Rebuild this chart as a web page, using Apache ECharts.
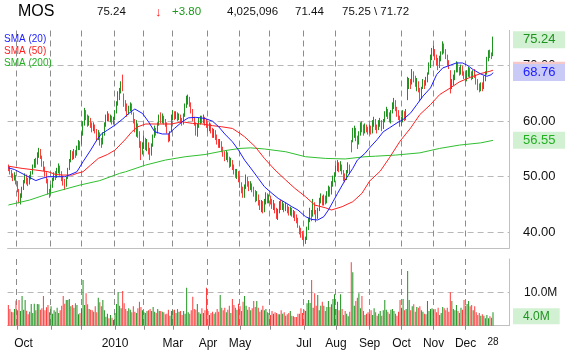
<!DOCTYPE html>
<html>
<head>
<meta charset="utf-8">
<title>MOS</title>
<script src="https://cdn.jsdelivr.net/npm/echarts@6/dist/echarts.min.js"></script>
<style>
  html, body { margin: 0; padding: 0; background: #fff; }
  #chart { width: 565px; height: 351px; }
</style>
</head>
<body>
<div id="chart"></div>
<script>
  // trading calendar shown on the chart
  const firstDay = '2009-09-23';
  const lastDay = '2010-12-28';
  const holidays = ['2009-11-26', '2009-12-25', '2010-01-01', '2010-01-18', '2010-02-15',
    '2010-04-02', '2010-05-31', '2010-07-05', '2010-09-06', '2010-11-25', '2010-12-24'];

  // labels under the volume panel
  const tickDates = ['2009-10-01', '2010-01-04', '2010-03-01', '2010-04-01', '2010-05-03', '2010-07-01',
    '2010-08-02', '2010-09-01', '2010-10-01', '2010-11-01', '2010-12-01', '2010-12-28'];
  const tickLabels = ['Oct', '2010', 'Mar', 'Apr', 'May', 'Jul', 'Aug', 'Sep', 'Oct', 'Nov', 'Dec', '28'];

  // daily bars, one value per trading day
  const opens = [
    52.0, 51.6, 51.0, 50.4, 49.8, 50.2, 49.0, 47.6, 45.8, 46.6, 47.8, 49.0, 50.2, 49.2, 48.8, 49.8, 50.4, 51.8, 52.6, 52.2, 53.8, 54.6, 53.6, 52.4, 51.6, 50.6, 49.4, 47.2,
    46.6, 48.2, 49.4, 50.4, 50.0, 51.2, 51.8, 50.8, 49.6, 49.0, 48.4, 49.6, 51.2, 52.8, 54.2, 53.4, 54.4, 53.8, 55.2, 56.0,
    56.0, 57.6, 59.4, 61.8, 60.8, 59.6, 60.4, 59.2, 58.6, 59.4, 58.2, 57.0, 58.0, 56.4, 55.8, 57.6, 59.4, 60.6, 61.2, 60.4, 60.8, 59.8,
    60.2, 61.6, 63.2, 64.6, 65.4, 66.6, 65.0, 63.6, 62.6, 61.4, 62.2, 62.6, 61.8, 60.2, 58.6, 59.4, 57.6, 55.8, 53.8,
    55.2, 56.6, 55.4, 56.2, 54.6, 53.8, 55.6, 57.2, 58.6, 57.8, 59.4, 60.6, 60.0, 60.8, 60.0, 59.6, 58.0, 56.8, 58.0,
    60.6, 61.4, 60.8, 61.2, 60.6, 61.0, 60.0, 59.6, 61.0, 62.6, 63.8, 64.2, 63.2, 62.0, 60.6, 59.8, 58.0, 59.2, 60.2, 60.6, 60.0, 60.8, 59.8,
    59.4, 58.6, 59.4, 58.4, 57.6, 58.2, 57.2, 56.4, 55.8, 56.4, 55.0, 54.2, 53.6, 54.4, 53.2, 52.2, 53.0, 51.8, 51.0, 50.4, 50.8,
    49.6, 48.6, 47.6, 46.8, 48.2, 49.8, 48.8, 48.0, 48.6, 47.6, 47.0, 46.0, 46.8, 45.4, 44.6, 45.2, 44.0, 45.4, 46.6, 45.8,
    46.4, 45.6, 44.8, 45.4, 44.0, 43.0, 43.8, 45.2, 44.6, 45.0, 44.2, 44.8, 44.0, 43.6, 44.2, 43.2, 43.6, 42.6, 42.2, 41.2, 40.4, 39.6,
    39.2, 38.4, 38.8, 40.6, 42.2, 43.8, 42.6, 45.2, 43.8, 42.6, 44.0, 45.6, 46.4, 45.2, 46.2, 45.4, 46.8, 47.8, 47.0, 48.6, 49.6,
    50.2, 51.4, 52.4, 51.4, 52.2, 51.0, 50.0, 49.6, 50.8, 51.8, 56.4, 56.4, 58.0, 58.6, 57.0, 55.6, 57.8, 59.2, 58.6, 58.0, 59.0, 58.4,
    58.0, 58.6, 58.0, 59.6, 60.2, 59.0, 58.4, 59.6, 60.2, 58.8, 60.0, 61.2, 62.0, 61.2, 60.4, 61.6, 62.8, 63.6, 62.4, 61.6, 61.0,
    59.6, 60.2, 61.4, 60.6, 64.0, 66.8, 67.2, 66.4, 68.6, 67.6, 66.8, 67.4, 65.8, 64.2, 65.6, 66.8, 66.2, 67.4, 68.2, 70.0, 71.4,
    72.4, 72.8, 71.6, 70.8, 70.0, 71.4, 72.0, 73.8, 72.6, 71.8, 70.6, 69.0, 66.0, 67.0, 67.8, 68.8, 70.2, 69.4, 69.0, 69.8, 68.8,
    68.2, 67.6, 68.6, 69.2, 68.4, 68.0, 68.8, 68.2, 67.2, 66.2, 65.8, 66.6, 66.0, 67.6, 68.4, 70.6, 72.4, 71.8, 71.44
  ];
  const highs = [
    52.2, 51.8, 51.2, 50.6, 50.8, 50.3, 49.2, 47.8, 47.0, 48.2, 49.4, 50.6, 50.4, 49.8, 50.3, 51.0, 52.2, 53.2, 53.4, 54.4, 55.2, 55.0, 53.8, 52.8, 51.8, 50.8, 49.6, 47.8,
    48.6, 49.8, 50.8, 51.0, 51.6, 52.4, 52.0, 51.0, 50.2, 49.6, 50.0, 51.6, 53.2, 54.8, 54.6, 55.0, 54.8, 55.6, 56.6, 56.4,
    58.0, 60.0, 62.4, 62.0, 61.2, 61.0, 60.6, 59.8, 59.8, 59.4, 58.6, 58.4, 58.0, 57.0, 58.0, 59.8, 61.2, 61.8, 61.4, 61.2, 61.0, 60.8,
    62.0, 63.6, 65.4, 66.0, 67.2, 68.4, 65.0, 63.8, 63.2, 62.8, 63.4, 63.2, 61.6, 60.4, 60.2, 59.6, 58.2, 56.4, 56.2,
    57.4, 57.0, 56.8, 56.2, 55.2, 56.0, 57.6, 59.2, 58.8, 59.8, 61.2, 61.6, 61.4, 61.0, 60.4, 59.8, 57.8, 58.2, 61.2,
    62.0, 61.8, 61.8, 61.6, 61.4, 61.2, 60.6, 61.4, 63.2, 64.6, 64.8, 64.4, 63.4, 62.2, 60.8, 59.8, 59.6, 60.6, 61.0, 61.0, 61.2, 60.8, 60.4,
    59.4, 59.8, 59.6, 58.8, 58.6, 58.4, 57.6, 56.8, 56.8, 56.4, 55.4, 54.6, 54.8, 54.4, 53.6, 53.4, 53.0, 52.2, 51.4, 51.4, 51.0,
    50.2, 49.0, 48.2, 48.6, 50.4, 50.0, 49.2, 49.2, 48.8, 48.2, 47.6, 47.4, 46.8, 45.8, 45.8, 45.6, 46.0, 47.2, 47.0, 46.8,
    46.6, 46.0, 45.8, 45.2, 44.4, 44.2, 45.6, 45.8, 45.6, 45.2, 45.4, 45.0, 44.6, 44.6, 44.4, 44.0, 43.8, 43.2, 42.6, 41.2, 40.8, 40.2,
    39.4, 39.2, 41.0, 42.6, 44.4, 44.0, 46.0, 45.4, 44.0, 44.4, 46.2, 47.0, 46.6, 46.8, 46.6, 47.4, 48.4, 48.2, 49.2, 50.2, 50.8,
    52.0, 53.0, 52.6, 52.8, 52.2, 51.2, 50.6, 51.2, 52.6, 52.2, 56.6, 58.8, 59.2, 58.8, 57.4, 58.2, 59.8, 60.0, 59.4, 59.6, 59.4, 59.0,
    59.4, 59.2, 60.2, 60.8, 60.4, 59.4, 60.2, 60.6, 60.2, 60.4, 61.8, 62.6, 62.2, 61.6, 62.0, 63.4, 64.2, 63.8, 62.6, 62.0, 61.0,
    60.8, 62.0, 61.8, 62.2, 68.0, 67.8, 67.6, 69.4, 69.0, 68.2, 67.8, 67.2, 66.0, 66.2, 67.6, 67.4, 68.0, 68.8, 70.6, 72.0, 73.2,
    73.6, 73.0, 72.0, 71.4, 71.8, 72.6, 74.4, 74.0, 73.0, 72.0, 71.0, 69.2, 67.6, 68.4, 69.2, 70.8, 70.6, 69.8, 70.2, 70.0, 69.0,
    68.8, 69.2, 69.8, 69.6, 69.0, 69.2, 69.4, 68.4, 67.6, 66.8, 67.0, 67.0, 68.2, 69.0, 71.6, 72.8, 72.9, 72.4, 75.25
  ];
  const lows = [
    51.0, 50.4, 49.8, 49.2, 49.3, 48.6, 47.2, 45.2, 45.0, 46.2, 47.6, 48.8, 48.6, 48.3, 48.6, 49.5, 50.4, 51.6, 51.6, 52.2, 53.4, 53.2, 51.8, 51.0, 50.0, 48.8, 46.8, 46.2,
    46.8, 48.0, 49.2, 49.4, 49.8, 50.6, 50.2, 49.2, 48.4, 47.6, 48.2, 49.6, 51.2, 52.6, 53.0, 53.2, 53.4, 53.8, 54.8, 54.8,
    55.8, 57.4, 59.2, 60.2, 59.0, 59.2, 58.8, 58.0, 58.2, 57.8, 56.4, 56.6, 55.6, 55.2, 55.8, 57.4, 59.0, 60.0, 60.0, 59.8, 59.4, 59.4,
    60.2, 61.4, 62.8, 63.8, 65.0, 65.4, 62.6, 61.8, 60.8, 61.2, 61.8, 61.2, 59.6, 58.0, 57.2, 57.0, 55.2, 53.0, 54.0,
    55.0, 54.8, 54.6, 54.0, 53.0, 53.8, 55.4, 57.0, 57.4, 57.8, 59.2, 59.6, 59.6, 59.4, 59.0, 57.8, 56.2, 56.4, 58.0,
    60.2, 60.2, 60.4, 60.0, 60.2, 59.6, 59.2, 59.4, 60.8, 62.4, 63.0, 62.6, 61.4, 60.0, 59.2, 57.4, 57.2, 58.8, 59.4, 59.6, 59.6, 59.2, 58.8,
    58.0, 58.2, 57.8, 57.0, 57.0, 56.6, 55.8, 55.2, 55.2, 54.4, 53.6, 52.8, 53.0, 52.6, 51.6, 51.8, 51.2, 50.4, 49.8, 49.6, 49.0,
    48.0, 47.0, 46.2, 46.2, 47.8, 48.2, 47.4, 47.6, 47.2, 46.4, 45.4, 45.6, 44.8, 44.0, 43.6, 43.4, 43.6, 45.0, 45.2, 45.2,
    45.0, 44.2, 44.0, 43.4, 42.4, 42.2, 43.4, 44.0, 44.0, 43.6, 43.8, 43.4, 43.0, 43.0, 42.8, 42.6, 42.0, 41.6, 40.8, 39.6, 39.0, 38.6,
    37.7, 37.9, 38.6, 40.4, 41.8, 42.0, 42.8, 43.2, 41.8, 42.4, 43.8, 45.2, 44.8, 44.8, 45.0, 45.2, 46.4, 46.4, 46.8, 48.2, 49.0,
    50.0, 51.0, 50.8, 51.0, 50.4, 49.2, 49.0, 49.4, 50.6, 50.4, 54.4, 56.2, 57.0, 56.4, 55.0, 55.8, 57.4, 58.0, 57.4, 57.8, 58.0, 57.6,
    57.8, 57.6, 57.8, 59.0, 58.4, 57.8, 58.4, 59.0, 58.2, 58.6, 59.8, 60.8, 60.4, 59.8, 59.6, 61.4, 62.2, 61.8, 60.8, 60.2, 59.0,
    59.2, 59.8, 60.0, 60.2, 63.8, 65.8, 65.8, 66.6, 67.0, 66.2, 65.4, 65.2, 63.6, 64.0, 65.8, 65.8, 66.4, 67.0, 68.4, 69.6, 71.0,
    71.8, 71.0, 70.0, 69.2, 69.6, 70.8, 72.0, 72.2, 71.2, 70.0, 69.4, 65.0, 65.8, 66.4, 67.4, 68.8, 68.8, 68.2, 68.4, 68.2, 67.6,
    67.0, 67.2, 68.0, 67.8, 67.4, 67.6, 67.8, 66.6, 65.6, 65.2, 65.4, 65.4, 65.8, 67.2, 68.4, 70.8, 71.4, 71.2, 71.72
  ];
  const closes = [
    51.6, 51.0, 50.4, 49.8, 50.2, 49.0, 47.6, 45.8, 46.6, 47.8, 49.0, 50.2, 49.2, 48.8, 49.8, 50.4, 51.8, 52.6, 52.0, 53.8, 54.6, 53.6, 52.4, 51.6, 50.6, 49.4, 47.2, 46.6,
    48.2, 49.4, 50.4, 50.0, 51.2, 51.8, 50.8, 49.6, 49.0, 48.4, 49.6, 51.2, 52.8, 54.2, 53.4, 54.4, 53.8, 55.2, 56.0, 55.4,
    57.6, 59.4, 61.8, 60.8, 59.6, 60.4, 59.2, 58.6, 59.4, 58.2, 57.0, 58.0, 56.4, 55.8, 57.6, 59.4, 60.6, 61.2, 60.4, 60.8, 59.8, 60.2,
    61.6, 63.2, 64.6, 65.4, 66.6, 65.8, 63.6, 62.6, 61.4, 62.2, 62.6, 61.8, 60.2, 58.6, 59.4, 57.6, 55.8, 53.8, 55.2,
    56.6, 55.4, 56.2, 54.6, 53.8, 55.6, 57.2, 58.6, 57.8, 59.4, 60.6, 60.0, 60.8, 60.0, 59.6, 58.0, 56.8, 57.6, 60.6,
    61.4, 60.8, 61.2, 60.6, 61.0, 60.0, 59.6, 61.0, 62.6, 63.8, 64.2, 63.2, 62.0, 60.6, 59.8, 58.0, 59.2, 60.2, 60.6, 60.0, 60.8, 59.8, 59.4,
    58.6, 59.4, 58.4, 57.6, 58.2, 57.2, 56.4, 55.8, 56.4, 55.0, 54.2, 53.6, 54.4, 53.2, 52.2, 53.0, 51.8, 51.0, 50.4, 50.8, 49.6,
    48.6, 47.6, 46.8, 48.2, 49.8, 48.8, 48.0, 48.6, 47.6, 47.0, 46.0, 46.8, 45.4, 44.6, 45.2, 44.0, 45.4, 46.6, 45.8, 46.4,
    45.6, 44.8, 45.4, 44.0, 43.0, 43.8, 45.2, 44.6, 45.0, 44.2, 44.8, 44.0, 43.6, 44.2, 43.2, 43.6, 42.6, 42.2, 41.2, 40.4, 39.6, 39.2,
    38.4, 38.8, 40.6, 42.2, 43.8, 42.6, 45.2, 43.8, 42.6, 44.0, 45.6, 46.4, 45.2, 46.2, 45.4, 46.8, 47.8, 47.0, 48.6, 49.6, 50.2,
    51.4, 52.4, 51.4, 52.2, 51.0, 50.0, 49.6, 50.8, 51.8, 51.2, 55.2, 58.0, 58.6, 57.0, 55.6, 57.8, 59.2, 58.6, 58.0, 59.0, 58.4, 58.0,
    58.6, 58.0, 59.6, 60.2, 59.0, 58.4, 59.6, 60.2, 58.8, 60.0, 61.2, 62.0, 61.2, 60.4, 61.6, 62.8, 63.6, 62.4, 61.6, 61.0, 59.6,
    60.2, 61.4, 60.6, 61.6, 66.8, 67.2, 66.4, 68.6, 67.6, 66.8, 67.4, 65.8, 64.2, 65.6, 66.8, 66.2, 67.4, 68.2, 70.0, 71.4, 72.4,
    72.8, 71.6, 70.8, 70.0, 71.4, 72.0, 73.8, 72.6, 71.8, 70.6, 70.2, 66.0, 67.0, 67.8, 68.8, 70.2, 69.4, 69.0, 69.8, 68.8, 68.2,
    67.6, 68.6, 69.2, 68.4, 68.0, 68.8, 68.2, 67.2, 66.2, 65.8, 66.6, 66.0, 67.6, 68.4, 70.6, 72.4, 71.8, 71.44, 75.24
  ];
  // volume in millions of shares
  const volumes = [
    6.2, 5.0, 4.2, 4.0, 5.0, 7.5, 4.6, 7.7, 4.4, 8.9, 4.8, 7.7, 4.5, 3.4, 4.2, 6.5, 3.8, 6.6, 4.6, 6.5, 6.4, 4.8, 5.2, 8.9, 4.6, 5.5, 6.2, 4.0,
    5.8, 3.6, 4.6, 4.2, 5.4, 3.8, 4.6, 6.0, 8.9, 6.6, 7.7, 7.7, 8.0, 5.8, 6.2, 5.4, 6.7, 6.2, 3.4, 3.8,
    5.2, 13.7, 6.2, 9.7, 6.4, 5.0, 4.8, 4.6, 4.2, 5.8, 4.0, 8.4, 7.0, 5.8, 7.7, 4.6, 2.7, 3.6, 2.2, 3.2, 2.4, 1.7,
    3.8, 6.5, 10.0, 6.0, 5.2, 10.4, 6.7, 5.0, 4.4, 5.2, 4.8, 4.0, 5.8, 4.2, 3.8, 5.2, 7.2, 5.6, 4.6,
    4.0, 3.8, 4.4, 4.6, 5.0, 4.4, 5.6, 4.2, 3.8, 5.0, 4.4, 4.4, 4.2, 4.0, 3.4, 3.6, 4.8, 3.0, 4.4,
    4.6, 4.8, 3.8, 5.0, 4.2, 4.4, 3.2, 4.4, 3.6, 11.4, 4.0, 3.6, 4.6, 8.7, 5.0, 4.8, 6.5, 4.0, 3.6, 5.2, 3.8, 4.6, 11.4,
    4.4, 3.2, 3.8, 4.2, 3.6, 4.0, 5.0, 4.2, 9.2, 5.4, 4.6, 5.4, 4.0, 4.8, 6.0, 3.8, 8.0, 6.2, 5.4, 4.8, 6.6,
    5.8, 4.4, 7.2, 8.9, 6.0, 4.8, 5.6, 4.6, 5.2, 7.4, 5.6, 7.4, 5.4, 4.2, 4.8, 6.0, 4.6, 5.0, 4.0, 3.8,
    3.2, 4.4, 3.6, 4.0, 3.8, 3.4, 3.4, 4.6, 3.6, 4.0, 3.0, 3.4, 3.8, 4.4, 3.0, 2.8, 2.6, 2.6, 3.6, 3.6, 5.2, 3.8,
    4.8, 4.4, 6.7, 7.7, 6.8, 13.7, 5.4, 9.7, 6.0, 9.2, 4.6, 6.0, 7.2, 6.0, 4.4, 5.6, 7.4, 5.6, 6.4, 8.0, 9.4,
    5.0, 7.2, 4.6, 9.4, 5.0, 3.2, 4.4, 3.6, 2.8, 4.2, 19.0, 16.0, 6.0, 7.4, 8.4, 9.7, 5.2, 8.9, 4.4, 3.2, 3.6, 4.0,
    3.4, 4.6, 3.2, 5.2, 4.0, 3.0, 3.6, 4.4, 3.0, 4.6, 7.7, 4.8, 4.2, 3.6, 4.8, 5.0, 4.4, 3.6, 3.0, 4.2, 7.7,
    5.4, 8.0, 4.6, 5.0, 16.4, 7.7, 4.6, 5.8, 6.4, 4.2, 5.6, 5.4, 5.8, 4.6, 4.2, 3.6, 3.4, 7.4, 4.4, 5.0, 5.2,
    4.6, 5.0, 4.0, 5.4, 3.2, 3.8, 5.6, 5.2, 4.6, 5.4, 4.2, 10.0, 7.4, 5.0, 4.6, 6.2, 4.4, 3.8, 5.4, 4.8, 7.7,
    6.0, 6.5, 7.4, 5.8, 6.2, 4.6, 5.8, 4.0, 3.2, 3.8, 3.0, 3.4, 3.0, 2.2, 3.2, 2.2, 2.8, 2.4, 4.025
  ];
  const lastVolume = 4025096;

  // moving averages: [trading day index, value]
  const sma20 = [[0, 51.6], [4, 51.3], [11, 50.3], [18, 49.3], [22, 49.7], [26, 50.0], [31, 50.0], [37, 50.0], [40, 50.3],
    [45, 50.9], [49, 52.7], [54, 54.8], [58, 56.6], [61, 57.7], [65, 58.4], [70, 59.3], [75, 60.4], [79, 61.4], [83, 62.2],
    [88, 61.4], [92, 59.9], [96, 58.1], [101, 57.7], [105, 57.7], [109, 58.7], [114, 59.9], [118, 60.6], [123, 60.7],
    [129, 60.5], [134, 60.0], [138, 59.0], [142, 57.7], [147, 56.3], [151, 54.8], [155, 53.0], [160, 51.2], [164, 49.7],
    [168, 48.2], [173, 47.0], [177, 46.1], [182, 45.3], [186, 44.6], [190, 44.0], [195, 42.8], [199, 42.3], [203, 42.2],
    [207, 42.8], [210, 44.0], [213, 45.5], [216, 47.0], [221, 49.4], [226, 51.5], [229, 53.0], [234, 54.2], [237, 55.2],
    [242, 56.7], [246, 58.1], [250, 58.8], [255, 59.7], [259, 60.3], [264, 61.5], [268, 63.0], [272, 64.5], [277, 66.0],
    [281, 68.4], [285, 69.6], [290, 70.1], [294, 70.5], [298, 70.5], [301, 70.1], [305, 69.3], [310, 68.5], [314, 68.1],
    [317, 68.4], [318, 68.76]];
  const sma50 = [[0, 51.9], [9, 51.5], [18, 51.2], [26, 50.9], [31, 50.4], [36, 50.3], [42, 50.3], [45, 50.6], [49, 50.9],
    [54, 52.1], [59, 53.3], [65, 54.0], [70, 54.8], [77, 56.8], [81, 58.1], [85, 59.0], [90, 59.5], [98, 59.5], [107, 59.5],
    [114, 59.9], [121, 59.6], [127, 59.5], [134, 59.2], [140, 59.0], [147, 58.7], [152, 57.8], [155, 57.2], [162, 55.4],
    [168, 53.3], [175, 51.2], [182, 49.4], [188, 47.9], [195, 46.4], [201, 44.9], [208, 44.4], [212, 44.0], [219, 44.6],
    [226, 45.5], [232, 47.0], [237, 49.2], [244, 51.0], [250, 53.4], [257, 56.4], [264, 58.8], [270, 61.2], [277, 63.0],
    [283, 64.8], [290, 66.0], [296, 67.1], [303, 67.9], [310, 68.6], [316, 69.0], [318, 69.2]];
  const sma200 = [[0, 44.9], [14, 45.8], [27, 47.0], [47, 48.5], [60, 49.3], [73, 50.6], [77, 50.9], [90, 52.1], [103, 53.0],
    [116, 53.6], [129, 54.0], [142, 54.7], [152, 55.1], [159, 55.2], [168, 55.0], [182, 54.5], [195, 53.6], [208, 53.3],
    [221, 53.2], [234, 53.6], [241, 53.7], [254, 53.9], [270, 54.3], [283, 55.1], [296, 55.7], [310, 56.1], [318, 56.55]];

  const UP = '#1f931f';
  const DOWN = '#ff3c3c';
  const FONT = '"Liberation Sans", Arial, sans-serif';

  function tradingDays(from, to) {
    const out = [];
    const d = new Date(from + 'T00:00:00Z');
    const end = new Date(to + 'T00:00:00Z');
    while (d <= end) {
      const s = d.toISOString().slice(0, 10);
      const wd = d.getUTCDay();
      if (wd !== 0 && wd !== 6 && holidays.indexOf(s) < 0) out.push(s);
      d.setUTCDate(d.getUTCDate() + 1);
    }
    return out;
  }

  const days = tradingDays(firstDay, lastDay);
  // some empty room right of the last bar, as on the original
  const cats = days.concat(new Array(10).fill(''));
  const isMonthStart = (i) => i > 0 && i < days.length && days[i].slice(5, 7) !== days[i - 1].slice(5, 7);
  const hasLabel = (i) => tickDates.indexOf(cats[i]) >= 0;

  const n = closes.length - 1;
  const sma = (arr) => arr[arr.length - 1][1];

  // value tag on the right axis (line itself invisible)
  function tag(value, text, color, bg, size, dy) {
    return {
      silent: true,
      symbol: 'none',
      animation: false,
      lineStyle: { color: 'rgba(0,0,0,0)', width: 1 },
      label: {
        show: true, position: 'end', distance: 4, formatter: text, offset: [0, dy || 0],
        color: color, backgroundColor: bg, fontSize: size, lineHeight: size,
        padding: [2, 10, 2, 10], fontFamily: FONT
      },
      data: [{ yAxis: value }]
    };
  }

  const chart = echarts.init(document.getElementById('chart'));

  const headerText = [
    { x: 18, text: 'MOS', size: 16, color: '#000' },
    { x: 97, text: closes[n].toFixed(2), size: 11.5, color: '#111' },
    { x: 155, text: '\u2193', size: 13, color: '#ff2020' },
    { x: 172, text: '+' + (closes[n] - closes[n - 1]).toFixed(2), size: 11.5, color: '#1a9a1a' },
    { x: 227, text: lastVolume.toLocaleString('en-US'), size: 11.5, color: '#111' },
    { x: 295, text: opens[n].toFixed(2), size: 11.5, color: '#111' },
    { x: 342, text: highs[n].toFixed(2) + ' \\ ' + lows[n].toFixed(2), size: 11.5, color: '#111' }
  ];

  chart.setOption({
    animation: false,
    textStyle: { fontFamily: FONT },
    graphic: headerText.map(t => ({
      type: 'text', x: t.x, y: 12,
      style: { text: t.text, fill: t.color, fontSize: t.size, fontFamily: FONT, verticalAlign: 'middle' }
    })),
    legend: {
      orient: 'vertical', left: -6, top: 29, icon: 'none', itemWidth: 0, itemHeight: 10, itemGap: 2,
      selectedMode: false,
      textStyle: { fontSize: 10, fontFamily: FONT },
      data: [
        { name: 'SMA (20)', textStyle: { color: '#1c1cff' } },
        { name: 'SMA (50)', textStyle: { color: '#ff2020' } },
        { name: 'SMA (200)', textStyle: { color: '#22b022' } }
      ]
    },
    grid: [
      { left: 7.6, right: 56, top: 30.5, height: 217.8 },
      { left: 7.6, right: 56, top: 259, height: 66.7 }
    ],
    xAxis: [
      {
        type: 'category', gridIndex: 0, data: cats, boundaryGap: true,
        axisLine: { lineStyle: { color: '#c0c0c0' } },
        axisTick: { show: false }, axisLabel: { show: false },
        splitLine: { show: true, interval: isMonthStart, lineStyle: { color: '#8c8c8c', type: [6, 4] } }
      },
      {
        type: 'category', gridIndex: 1, data: cats, boundaryGap: true,
        axisLine: { lineStyle: { color: '#c0c0c0' } },
        axisTick: { show: true, alignWithLabel: true, interval: isMonthStart, length: 4, lineStyle: { color: '#8c8c8c' } },
        axisLabel: {
          interval: hasLabel, margin: 12, color: '#111', fontSize: 12,
          formatter: (v) => {
            const t = tickLabels[tickDates.indexOf(v)];
            if (v === lastDay) return '{s|' + t + '}';
            if (v === tickDates[0]) return '{f|' + t + '}';
            return t;
          },
          rich: {
            s: { fontSize: 10, color: '#111' },
            f: { fontSize: 12, color: '#111', padding: [0, 0, 0, 12] }
          }
        },
        splitLine: { show: true, interval: isMonthStart, lineStyle: { color: '#8c8c8c', type: [6, 4] } }
      }
    ],
    yAxis: [
      {
        type: 'value', gridIndex: 0, position: 'right', min: 37.1, max: 76.35, splitNumber: 4,
        axisLine: { show: true, lineStyle: { color: '#c0c0c0' } },
        axisTick: { show: false },
        axisLabel: { margin: 14, color: '#111', fontSize: 13, showMinLabel: false, showMaxLabel: false,
          formatter: (v) => v.toFixed(2) },
        splitLine: { show: true, showMinLine: false, showMaxLine: false, lineStyle: { color: '#b8b8b8', type: [6, 4] } }
      },
      {
        type: 'value', gridIndex: 1, position: 'right', min: 0, max: 20, interval: 10,
        axisLine: { show: true, lineStyle: { color: '#c0c0c0' } },
        axisTick: { show: false },
        axisLabel: { margin: 15, color: '#111', fontSize: 12, showMinLabel: false, showMaxLabel: false,
          formatter: (v) => v.toFixed(1) + 'M' },
        splitLine: { show: true, showMinLine: false, showMaxLine: false, lineStyle: { color: '#b8b8b8', type: [6, 4] } }
      }
    ],
    series: [
      {
        name: 'MOS', type: 'candlestick', xAxisIndex: 0, yAxisIndex: 0, barWidth: 1.2,
        data: closes.map((c, i) => [opens[i], c, lows[i], highs[i]]),
        itemStyle: { color: UP, color0: DOWN, borderColor: UP, borderColor0: DOWN, borderWidth: 1 },
        markLine: tag(closes[n], closes[n].toFixed(2), '#1f931f', '#d2f0d2', 13, 3)
      },
      {
        name: 'SMA (200)', type: 'line', xAxisIndex: 0, yAxisIndex: 0, data: sma200, showSymbol: false,
        lineStyle: { color: '#2fbf2f', width: 1 }, itemStyle: { color: '#2fbf2f' },
        markLine: tag(sma(sma200), sma(sma200).toFixed(2), '#22b022', '#d2f0d2', 13)
      },
      {
        name: 'SMA (50)', type: 'line', xAxisIndex: 0, yAxisIndex: 0, data: sma50, showSymbol: false,
        lineStyle: { color: '#ff2020', width: 1 }, itemStyle: { color: '#ff2020' },
        markLine: tag(sma(sma50), sma(sma50).toFixed(2), '#ff2020', '#f6c8c8', 13)
      },
      {
        name: 'SMA (20)', type: 'line', xAxisIndex: 0, yAxisIndex: 0, data: sma20, showSymbol: false,
        lineStyle: { color: '#1c1cff', width: 1 }, itemStyle: { color: '#1c1cff' },
        markLine: tag(sma(sma20), sma(sma20).toFixed(2), '#1c1cff', '#cacaf6', 13)
      },
      {
        name: 'Volume', type: 'bar', xAxisIndex: 1, yAxisIndex: 1, barWidth: 1,
        data: volumes.map((v, i) => ({ value: v, itemStyle: { color: closes[i] >= opens[i] ? UP : DOWN } })),
        markLine: tag(volumes[n], volumes[n].toFixed(1) + 'M', '#1f931f', '#d2f0d2', 12, 4)
      }
    ]
  });
</script>
</body>
</html>
